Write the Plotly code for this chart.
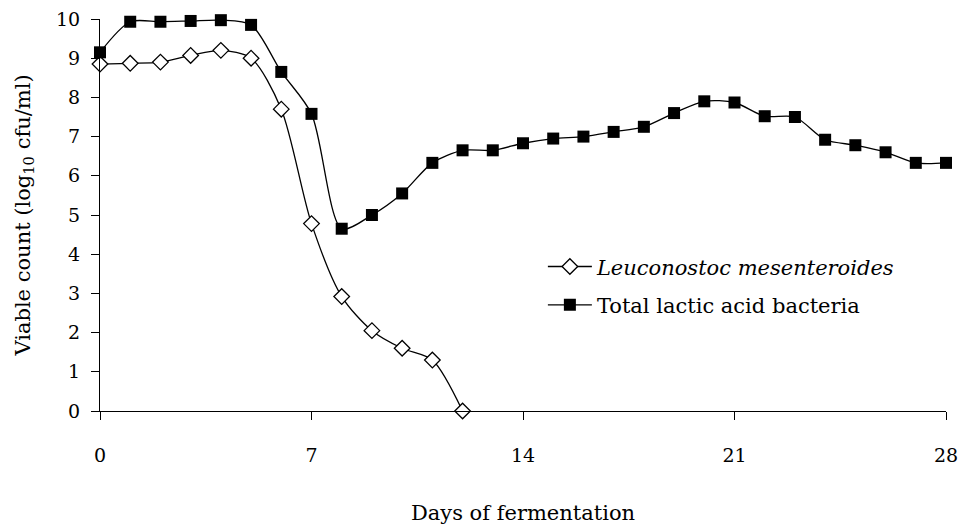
import plotly.graph_objects as go

days_leu = list(range(0, 13))
leuconostoc = [8.85, 8.87, 8.9, 9.07, 9.2, 9.0, 7.7, 4.78, 2.92, 2.05, 1.6, 1.3, 0.0]

days_lab = list(range(0, 29))
total_lab = [9.15, 9.93, 9.93, 9.95, 9.97, 9.85, 8.65, 7.58, 4.65, 5.0, 5.55, 6.33,
             6.65, 6.65, 6.83, 6.95, 7.0, 7.12, 7.25, 7.6, 7.9, 7.87, 7.52, 7.5,
             6.92, 6.78, 6.6, 6.33, 6.33]

x_ticks = [0, 7, 14, 21, 28]
y_ticks = list(range(0, 11))

FONT = "DejaVu Serif"

fig = go.Figure()
fig.add_trace(go.Scatter(
    x=days_leu, y=leuconostoc, mode="lines+markers",
    name="<i>Leuconostoc mesenteroides</i>", legendgroup="a",
    line=dict(color="black", width=1.3, shape="spline", smoothing=0.8),
    marker=dict(symbol="diamond", size=12, color="white", line=dict(color="black", width=1.3)),
    cliponaxis=False,
))
fig.add_trace(go.Scatter(
    x=days_lab, y=total_lab, mode="lines+markers",
    name="Total lactic acid bacteria", legendgroup="b",
    line=dict(color="black", width=1.3, shape="spline", smoothing=0.8),
    marker=dict(symbol="square", size=12, color="black", line=dict(color="black", width=0)),
    cliponaxis=False,
))

fig.update_layout(
    width=960, height=525,
    margin=dict(l=100, r=14, t=19, b=114),
    paper_bgcolor="white", plot_bgcolor="white",
    font=dict(family=FONT, size=19, color="black"),
    showlegend=True,
    legend=dict(x=0.5235, y=0.42, xanchor="left", yanchor="top",
                bgcolor="rgba(0,0,0,0)", font=dict(family=FONT, size=21),
                traceorder="grouped", tracegroupgap=8, itemwidth=44),
    xaxis=dict(range=[0, 28], tickvals=x_ticks, ticktext=[str(v) for v in x_ticks],
               showline=True, linecolor="black", linewidth=1.2,
               ticks="outside", ticklen=8, tickcolor="black", tickwidth=1.2,
               ticklabelstandoff=19, ticklabeloverflow="allow",
               showgrid=False, zeroline=False, automargin=False,
               tickfont=dict(family=FONT, size=19),
               title=dict(text="Days of fermentation", standoff=42,
                          font=dict(family=FONT, size=21))),
    yaxis=dict(range=[0, 10], tickvals=y_ticks, ticktext=[str(v) for v in y_ticks],
               showline=True, linecolor="black", linewidth=1.2,
               ticks="outside", ticklen=8, tickcolor="black", tickwidth=1.2,
               ticklabelstandoff=7, ticklabeloverflow="allow",
               showgrid=False, zeroline=False, automargin=False,
               tickfont=dict(family=FONT, size=19),
               title=dict(text="Viable count (log<sub>10</sub> cfu/ml)", standoff=19,
                          font=dict(family=FONT, size=21))),
)

fig.write_html(
    "out.html",
    config={"displayModeBar": False},
    post_script="document.body.style.margin='0';document.body.style.overflow='hidden';",
)
